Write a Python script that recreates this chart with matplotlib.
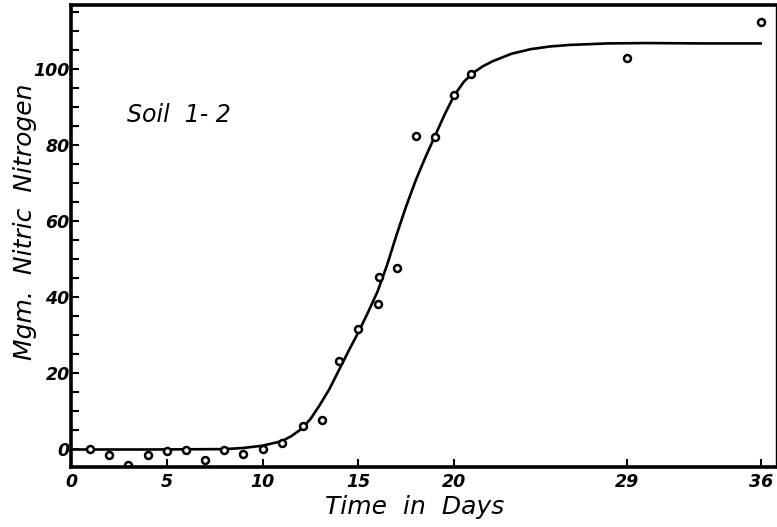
#!/usr/bin/env python3

# Recreate the nitrification curve for Soil 1-2.

# Import matplotlib for plotting.
import matplotlib
matplotlib.use("Agg")
import matplotlib.pyplot as plt

# Observed points (days, mgm. nitric nitrogen).
obs_days = [1, 2, 3, 4, 5, 6, 7, 8, 9, 10, 11, 12.1, 13.1, 14, 15, 16, 16.1, 17, 18, 19, 20, 20.9, 29, 36]
obs_values = [0.2, -1.5, -4.2, -1.5, -0.4, -0.2, -2.8, -0.2, -1.3, 0.2, 1.7, 6.1, 7.8, 23.2, 31.6, 38.3, 45.3, 47.8, 82.3, 82.2, 93.2, 98.7, 102.9, 112.3]

# Fitted curve.
curve_days = [0, 4, 8, 9, 10, 11, 11.5, 12, 12.5, 13, 13.5, 14, 14.5, 15, 15.5, 16, 16.5, 17, 17.5, 18,
              18.5, 19, 19.5, 20, 20.5, 21, 21.5, 22, 23, 24, 25, 26, 28, 30, 33, 36]
curve_values = [0, 0, 0.1, 0.4, 1.0, 2.2, 3.5, 5.3, 8.0, 11.8, 16.0, 21.0, 26.0, 30.8, 36.0, 41.5, 48.5, 56.5, 64.0, 70.8,
                76.8, 82.4, 88.0, 93.0, 96.6, 99.0, 100.7, 102.0, 104.0, 105.2, 105.9, 106.3, 106.7, 106.8, 106.7, 106.7]

# Tick positions and labels.
x_ticks = [0, 5, 10, 15, 20, 29, 36]
x_labels = ["0", "5", "10", "15", "20", "29", "36"]
y_ticks = [0, 20, 40, 60, 80, 100]
y_minor = [5, 10, 15, 25, 30, 35, 45, 50, 55, 65, 70, 75, 85, 90, 95, 105, 110, 115]

# Create the figure.
fig = plt.figure(figsize=(7.77, 5.27), dpi=100)
ax = fig.add_axes([71 / 777, 1 - 467 / 527, 705 / 777, 462 / 527])

# Draw the curve and the points.
ax.plot(curve_days, curve_values, color="black", linewidth=1.9)
ax.plot(obs_days, obs_values, linestyle="none", marker="o", markersize=5,
        markerfacecolor="white", markeredgecolor="black", markeredgewidth=1.8)

# Axis limits.
ax.set_xlim(0, 36.8)
ax.set_ylim(-4.6, 116.8)

# Frame, heavy on three sides.
for side in ["left", "bottom", "top"]:
    ax.spines[side].set_linewidth(2.6)
ax.spines["right"].set_linewidth(1.0)

# Ticks point inward like the hand drawing.
tick_font = {"family": "DejaVu Sans", "style": "italic", "weight": "bold", "size": 12.5}
ax.set_xticks(x_ticks)
ax.set_xticklabels(x_labels, fontdict=tick_font)
ax.set_yticks(y_ticks)
ax.set_yticklabels([str(v) for v in y_ticks], fontdict=tick_font)
ax.set_yticks(y_minor, minor=True)
ax.tick_params(axis="both", which="both", direction="in", length=6, width=1.5, pad=3)
ax.tick_params(axis="y", which="major", pad=1)
ax.tick_params(axis="x", which="major", pad=4)

# Axis labels.
label_font = {"family": "DejaVu Sans", "style": "italic", "size": 18}
fig.text(415 / 777, 1 - 507 / 527, "Time  in  Days", ha="center", va="center", fontdict=label_font)
fig.text(25 / 777, 1 - 222 / 527, "Mgm.  Nitric  Nitrogen", ha="center", va="center",
         rotation=90, fontdict=label_font)

# Soil label inside the plot.
fig.text(127 / 777, 1 - 115 / 527, "Soil  1- 2", ha="left", va="center",
         fontdict={"family": "DejaVu Sans", "style": "italic", "size": 17})

# Save figure.
fig.savefig("out.png", dpi=100)
plt.close(fig)
